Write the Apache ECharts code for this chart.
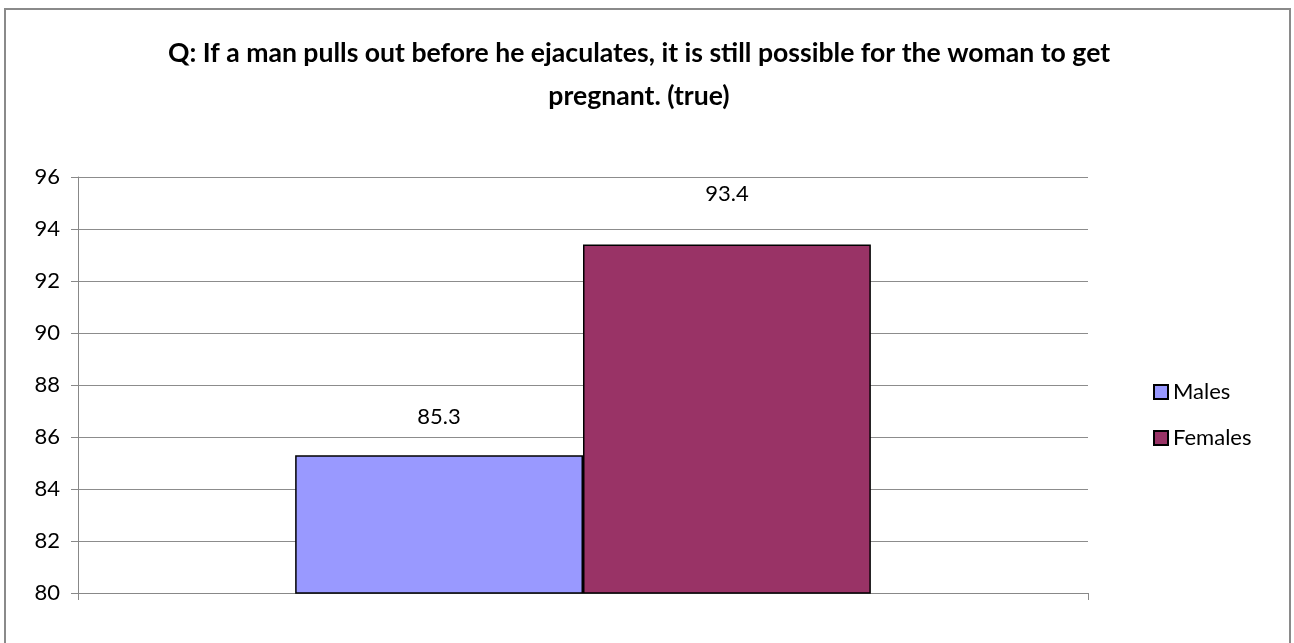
<!DOCTYPE html>
<html>
<head>
<meta charset="utf-8">
<script src="https://cdn.jsdelivr.net/npm/echarts@6/dist/echarts.min.js"></script>
<style>
html,body{margin:0;padding:0;background:#fff;}
#chart{width:1294px;height:643px;}
</style>
</head>
<body>
<div id="chart"></div>
<script>
const titleText = 'Q: If a man pulls out before he ejaculates, it is still possible for the woman to get\npregnant. (true)';
const categories = [''];
const seriesNames = ['Males', 'Females'];
const malesValues = [85.3];
const femalesValues = [93.4];
const yMin = 80, yMax = 96, yInterval = 2;

const FONT = 'Lato';
const chart = echarts.init(document.getElementById('chart'), null, {renderer: 'canvas'});
chart.setOption({
  animation: false,
  backgroundColor: '#ffffff',
  graphic: [{
    type: 'rect',
    shape: {x: 5, y: 9, width: 1285, height: 700},
    style: {fill: 'none', stroke: '#8a8a8a', lineWidth: 2},
    silent: true
  }],
  title: {
    text: titleText,
    left: 634,
    top: 27,
    textAlign: 'center',
    textStyle: {fontFamily: FONT, fontWeight: 'bold', fontSize: 26.6, lineHeight: 43, color: '#000'}
  },
  legend: {
    orient: 'vertical',
    left: 1148,
    top: 376,
    itemWidth: 14,
    itemHeight: 14,
    itemGap: 24,
    icon: 'rect',
    data: seriesNames,
    textStyle: {fontFamily: FONT, fontSize: 22, lineHeight: 22, color: '#000'}
  },
  grid: {left: 78, right: 206, top: 177, bottom: 50, containLabel: false},
  xAxis: {
    type: 'category',
    data: categories,
    axisLine: {show: true, lineStyle: {color: '#888', width: 1}},
    axisTick: {show: true, length: 7, lineStyle: {color: '#888'}},
    axisLabel: {show: false},
    splitLine: {show: false}
  },
  yAxis: {
    type: 'value',
    min: yMin, max: yMax, interval: yInterval,
    axisLine: {show: true, lineStyle: {color: '#888', width: 1}},
    axisTick: {show: true, length: 7, lineStyle: {color: '#888'}},
    axisLabel: {margin: 18, fontFamily: FONT, fontSize: 22, color: '#000'},
    splitLine: {show: true, lineStyle: {color: '#8c8c8c', width: 1}}
  },
  series: [
    {
      name: seriesNames[0], type: 'bar', data: malesValues,
      barGap: '0%', barCategoryGap: '43%',
      itemStyle: {color: '#9999FF', borderColor: '#000', borderWidth: 1.5},
      label: {show: true, position: 'top', distance: 27, fontFamily: FONT, fontSize: 22, color: '#000'}
    },
    {
      name: seriesNames[1], type: 'bar', data: femalesValues,
      barGap: '0%', barCategoryGap: '43%',
      itemStyle: {color: '#993366', borderColor: '#000', borderWidth: 1.5},
      label: {show: true, position: 'top', distance: 40, fontFamily: FONT, fontSize: 22, color: '#000'}
    }
  ]
});
</script>
</body>
</html>
